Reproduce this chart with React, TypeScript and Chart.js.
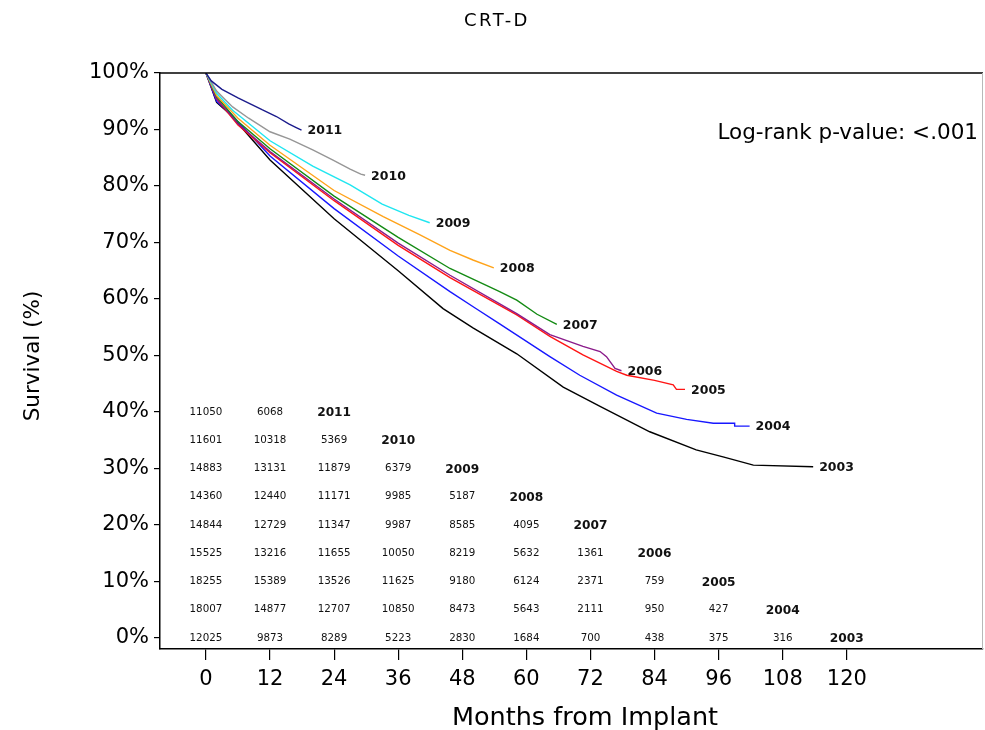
import React, { useEffect, useRef } from 'react';
import { Chart, registerables } from 'chart.js';

Chart.register(...registerables);

// Axis ticks
const MONTH_TICKS = [0, 12, 24, 36, 48, 60, 72, 84, 96, 108, 120];
const PCT_TICKS = [0, 10, 20, 30, 40, 50, 60, 70, 80, 90, 100];

// Implant-year cohorts, drawn top-down
const COHORTS = ['2011', '2010', '2009', '2008', '2007', '2006', '2005', '2004', '2003'];
const COLORS = ['#1b1b8c', '#969696', '#1fe6f0', '#ffa31a', '#138a13', '#8a1a8a', '#ff1414', '#1717ff', '#000000'];

// Kaplan-Meier survival estimates: [months, survival %]
const KM_2011: [number, number][] = [[0, 100], [1, 98.6], [3, 97.1], [6, 95.6], [8.2, 94.6], [10.5, 93.5], [13.2, 92.3], [15.5, 91], [17, 90.3], [17.9, 89.9]];
const KM_2010: [number, number][] = [[0, 100], [2, 96.8], [5, 94], [8, 92], [12, 89.6], [15.7, 88.3], [20, 86.4], [23.8, 84.6], [27, 83], [29, 82.1], [29.8, 81.9]];
const KM_2009: [number, number][] = [[0, 100], [2, 96.4], [5, 93.4], [12, 88], [20, 83.5], [27, 80.2], [33, 76.8], [38, 74.8], [41.9, 73.5]];
const KM_2008: [number, number][] = [[0, 100], [2, 96], [6, 92], [12, 87.2], [24, 79.2], [33.2, 74.6], [40, 71.4], [45.7, 68.6], [50, 66.9], [53.9, 65.5]];
const KM_2007: [number, number][] = [[0, 100], [2, 95.8], [6, 91.4], [12, 86.6], [24, 78.2], [36, 70.9], [45.7, 65.4], [55, 61.3], [58.2, 59.8], [62, 57.3], [65.7, 55.5]];
const KM_2006: [number, number][] = [[0, 100], [2, 95.5], [6, 91], [12, 86.1], [24, 77.7], [36, 69.9], [45.7, 64.2], [58.2, 57.4], [64.4, 53.7], [70.6, 51.6], [73.8, 50.7], [75, 49.8], [76.6, 47.7], [77.8, 47.3]];
const KM_2005: [number, number][] = [[0, 100], [2, 95.4], [6, 90.8], [12, 85.9], [24, 77.4], [36, 69.5], [45.7, 63.8], [58.2, 57.2], [64.4, 53.4], [70.6, 50.1], [76.9, 47.2], [78.8, 46.5], [84, 45.6], [87.5, 44.8], [88.1, 44], [89.7, 44]];
const KM_2004: [number, number][] = [[0, 100], [2, 95], [4.5, 92.9], [12, 85.3], [24, 76], [36, 67.6], [45.7, 61.3], [50.4, 58.4], [55, 55.6], [64.4, 49.8], [70, 46.5], [76.9, 43], [84.4, 39.8], [90, 38.7], [95, 38], [99, 38], [99, 37.5], [101.8, 37.5]];
const KM_2003: [number, number][] = [[0, 100], [2, 94.8], [4.5, 92.7], [12, 84.6], [24, 74.2], [36, 65], [44.4, 58.3], [50, 54.9], [58.2, 50.3], [66.9, 44.4], [73.8, 41], [83.1, 36.5], [91.8, 33.3], [97, 32], [102.5, 30.6], [113.7, 30.3]];
const CURVES = [KM_2011, KM_2010, KM_2009, KM_2008, KM_2007, KM_2006, KM_2005, KM_2004, KM_2003];

// Patients at risk at 0, 12, 24, ... months
const AT_RISK_2011 = [11050, 6068];
const AT_RISK_2010 = [11601, 10318, 5369];
const AT_RISK_2009 = [14883, 13131, 11879, 6379];
const AT_RISK_2008 = [14360, 12440, 11171, 9985, 5187];
const AT_RISK_2007 = [14844, 12729, 11347, 9987, 8585, 4095];
const AT_RISK_2006 = [15525, 13216, 11655, 10050, 8219, 5632, 1361];
const AT_RISK_2005 = [18255, 15389, 13526, 11625, 9180, 6124, 2371, 759];
const AT_RISK_2004 = [18007, 14877, 12707, 10850, 8473, 5643, 2111, 950, 427];
const AT_RISK_2003 = [12025, 9873, 8289, 5223, 2830, 1684, 700, 438, 375, 316];
const AT_RISK = [AT_RISK_2011, AT_RISK_2010, AT_RISK_2009, AT_RISK_2008, AT_RISK_2007, AT_RISK_2006, AT_RISK_2005, AT_RISK_2004, AT_RISK_2003];
// Survival level on which each at-risk row sits
const TABLE_ROW_LEVEL = [40, 35, 30, 25, 20, 15, 10, 5, 0];

const FONT = '"DejaVu Sans", "Liberation Sans", sans-serif';

const overlay = {
  id: 'kmOverlay',
  afterDatasetsDraw(chart: any) {
    const { ctx, chartArea } = chart;
    const x = chart.scales.x;
    const y = chart.scales.y;
    ctx.save();

    // top and right frame
    ctx.strokeStyle = '#000';
    ctx.lineWidth = 1.5;
    ctx.beginPath();
    ctx.moveTo(chartArea.left, chartArea.top);
    ctx.lineTo(chartArea.right, chartArea.top);
    ctx.stroke();
    ctx.strokeStyle = '#b8b8b8';
    ctx.lineWidth = 1;
    ctx.beginPath();
    ctx.moveTo(chartArea.right - 0.5, chartArea.top);
    ctx.lineTo(chartArea.right - 0.5, chartArea.bottom);
    ctx.stroke();

    // cohort labels at the end of each curve
    ctx.fillStyle = '#111';
    ctx.textBaseline = 'middle';
    ctx.textAlign = 'left';
    ctx.font = `bold 12.5px ${FONT}`;
    CURVES.forEach((c, i) => {
      const last = c[c.length - 1];
      ctx.fillText(COHORTS[i], x.getPixelForValue(last[0]) + 6, y.getPixelForValue(last[1]) + 1);
    });

    // numbers at risk
    ctx.textAlign = 'center';
    AT_RISK.forEach((row, i) => {
      const py = y.getPixelForValue(TABLE_ROW_LEVEL[i]);
      ctx.font = `10.3px ${FONT}`;
      row.forEach((n, j) => ctx.fillText(String(n), x.getPixelForValue(MONTH_TICKS[j]), py));
      ctx.font = `bold 12.2px ${FONT}`;
      ctx.fillText(COHORTS[i], x.getPixelForValue(MONTH_TICKS[row.length]), py + 1);
    });

    // log-rank annotation
    ctx.textAlign = 'right';
    ctx.font = `21.5px ${FONT}`;
    ctx.fillStyle = '#000';
    ctx.fillText('Log-rank p-value: <.001', chartArea.right - 5, 133);

    // titles
    ctx.textAlign = 'center';
    ctx.font = `18px ${FONT}`;
    (ctx as any).letterSpacing = '2.5px';
    ctx.fillText('CRT-D', 497, 21);
    (ctx as any).letterSpacing = '0px';
    ctx.font = `25.5px ${FONT}`;
    ctx.fillText('Months from Implant', 585, 718);
    ctx.translate(33, 356);
    ctx.rotate(-Math.PI / 2);
    ctx.font = `21.5px ${FONT}`;
    ctx.fillText('Survival (%)', 0, 0);
    ctx.restore();
  },
};

export default function App() {
  const ref = useRef<HTMLCanvasElement>(null);

  useEffect(() => {
    if (!ref.current) return;
    const chart = new Chart(ref.current, {
      type: 'line',
      data: {
        datasets: CURVES.map((c, i) => ({
          label: COHORTS[i],
          data: c.map(([m, s]) => ({ x: m, y: s })),
          borderColor: COLORS[i],
          backgroundColor: COLORS[i],
          borderWidth: 1.4,
          pointRadius: 0,
          tension: 0,
          fill: false,
        })),
      },
      options: {
        responsive: false,
        devicePixelRatio: 1,
        animation: false,
        layout: { padding: { top: 73, right: 2, left: 0, bottom: 0 } },
        plugins: { legend: { display: false }, title: { display: false }, tooltip: { enabled: false } },
        scales: {
          x: {
            type: 'linear',
            min: -8.6,
            max: 145.5,
            afterFit: (s: any) => { s.height = 81; },
            afterBuildTicks: (s: any) => { s.ticks = MONTH_TICKS.map((v) => ({ value: v })); },
            ticks: { autoSkip: false, maxRotation: 0, padding: 7, color: '#000', font: { family: FONT, size: 21 }, callback: (v: any) => String(v) },
            grid: { drawOnChartArea: false, drawTicks: true, tickLength: 11, color: '#000', lineWidth: 1.2 },
            border: { display: true, color: '#000', width: 1.5 },
          },
          y: {
            type: 'linear',
            min: -1.95,
            max: 100,
            afterFit: (s: any) => { s.width = 160; },
            afterBuildTicks: (s: any) => { s.ticks = PCT_TICKS.map((v) => ({ value: v })); },
            ticks: { autoSkip: false, padding: 5, color: '#000', font: { family: FONT, size: 21 }, callback: (v: any) => `${v}%` },
            grid: { drawOnChartArea: false, drawTicks: true, tickLength: 6, color: '#000', lineWidth: 1.2 },
            border: { display: true, color: '#000', width: 1.5 },
          },
        },
      },
      plugins: [overlay],
    });
    return () => chart.destroy();
  }, []);

  return (
    <div style={{ position: 'absolute', left: 0, top: 0, width: 985, height: 730, background: '#fff' }}>
      <canvas ref={ref} width={985} height={730} />
    </div>
  );
}
